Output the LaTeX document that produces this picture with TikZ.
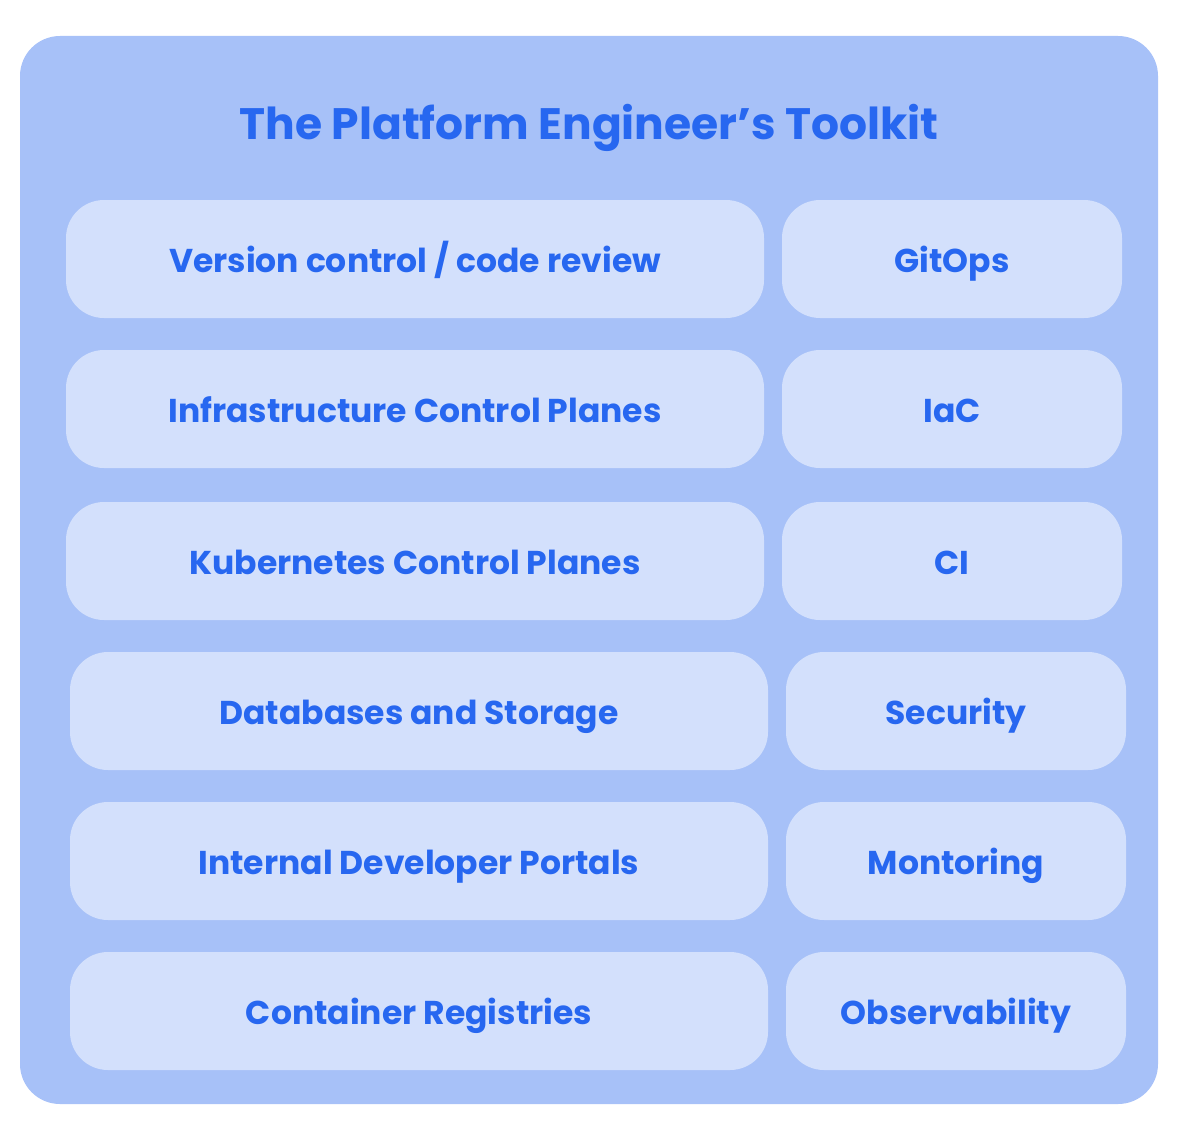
\documentclass[tikz,border=0pt]{standalone}
\usepackage{fontspec}
\setmainfont{Poppins}
\definecolor{panelblue}{HTML}{A7C1F8}
\definecolor{cardblue}{HTML}{D3E0FC}
\definecolor{inkblue}{HTML}{2767F0}
\begin{document}
\begin{tikzpicture}[x=1pt, y=-1pt]

        \tikzstyle{panel} = [fill=panelblue, rounded corners=40pt, inner sep=0, minimum width=1138pt, minimum height=1068pt];
        \tikzstyle{titletext} = [text=inkblue, inner sep=0, text height=34pt, text depth=0pt, font=\fontsize{44}{50}\selectfont\bfseries];
        \tikzstyle{card} = [fill=cardblue, rounded corners=38pt, inner sep=0, minimum height=118pt, text height=26pt, text depth=0pt, text=inkblue, font=\fontsize{33}{38}\selectfont\bfseries];
        \tikzstyle{widecard} = [card, minimum width=698pt];
        \tikzstyle{smallcard} = [card, minimum width=340pt];

        \useasboundingbox (0,0) rectangle (1180,1140);

        \node[panel] (P) at (589,570) {};
        \node[titletext] (T) at (589,122) {The Platform Engineer’s Toolkit};

        % Left - Tools
        \node[widecard] (VCS) at (415,259)  {Version control / code review};
        \node[widecard] (ICP) at (415,409)  {Infrastructure Control Planes};
        \node[widecard] (KCP) at (415,561)  {Kubernetes Control Planes};
        \node[widecard] (DBS) at (419,711)  {Databases and Storage};
        \node[widecard] (IDP) at (419,861)  {Internal Developer Portals};
        \node[widecard] (REG) at (419,1011) {Container Registries};
        % Left - Tools

        % Right - Practices
        \node[smallcard] (GIT) at (952,259)  {GitOps};
        \node[smallcard] (IAC) at (952,409)  {IaC};
        \node[smallcard] (CI)  at (952,561)  {CI};
        \node[smallcard] (SEC) at (956,711)  {Security};
        \node[smallcard] (MON) at (956,861)  {Montoring};
        \node[smallcard] (OBS) at (956,1011) {Observability};
        % Right - Practices

    \end{tikzpicture}
\end{document}
